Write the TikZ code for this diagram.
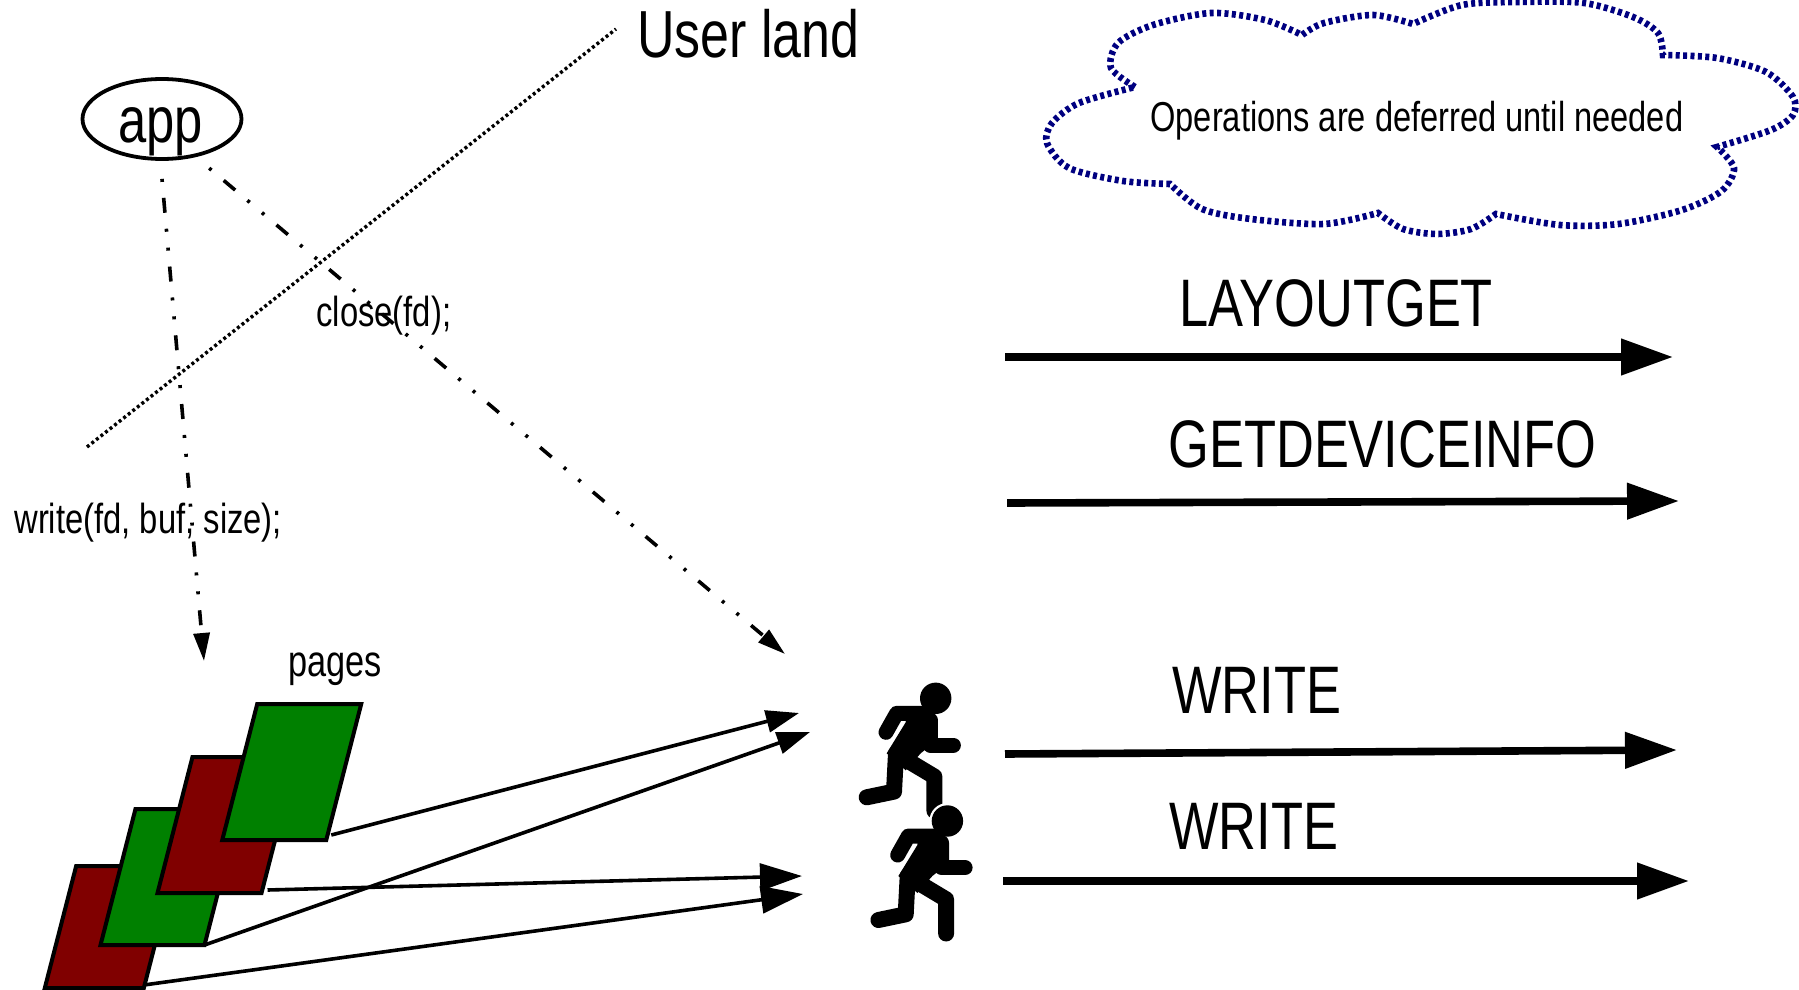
\documentclass[tikz,border=0pt]{standalone}
\usepackage{fontspec}
\setmainfont[FakeStretch=0.78]{Liberation Sans}
\usetikzlibrary{arrows.meta,shapes.geometric}
\definecolor{pagered}{HTML}{800000}
\definecolor{pagegreen}{HTML}{008000}
\definecolor{cloudblue}{HTML}{000080}
\tikzset{
  lbl/.style = {inner sep = 0pt, anchor = base west},
  pagebox/.style = {draw, line width = 2pt, outer sep = 0pt, inner sep = 0pt, minimum width = 52pt, minimum height = 68pt, xslant = .257, transform shape},
  calldash/.style = {line width = 1.8pt, dash pattern = on 1.5pt off 8pt on 7.5pt off 8pt on 1.5pt off 8pt, -{Triangle[length = 14pt, width = 8pt]}},
  pageline/.style = {line width = 1.8pt, -{Triangle[length = 16.5pt, width = 11pt]}},
  pagelong/.style = {line width = 1.8pt, -{Triangle[length = 21pt, width = 13.5pt]}},
  opline/.style = {line width = 3.8pt, -{Triangle[length = 26pt, width = 17.5pt]}},
  runner/.pic = {
    \fill (0,0) circle (15.7);
    \fill (-29,-8) -- (-7.3,-8) -- (1.7,-21.7) -- (1.7,-41.7) -- (-15,-55) -- (-30,-72) -- (-49,-55) -- (-30,-24) -- cycle;
    \draw[line width = 7.5pt, line cap = round, line join = round] (-10.7,-15) -- (-39,-15) -- (-49.7,-34);
    \draw[line width = 7.5pt, line cap = round, line join = round] (-5.7,-21.7) -- (-5.7,-46.7) -- (17.7,-46.7);
    \draw[line width = 8pt, line cap = round, line join = round] (-29,-61.7) -- (-1.3,-78.3) -- (-1.3,-112.5);
    \draw[line width = 8pt, line cap = round, line join = round] (-39.7,-55) -- (-41.7,-93.3) -- (-69,-99);
  }
}
\begin{document}
\begin{tikzpicture}[x = .5pt, y = .5pt]
\useasboundingbox (0,0) rectangle (1799,-990);
\coordinate (landa) at (87,-447);
\coordinate (landb) at (616,-29);
\draw[line width = 1.7pt, dash pattern = on 1.5pt off 1.4pt] (landa) -- (landb);
\node[lbl, font = \fontsize{33.3}{33.3}\selectfont] (userland) at (637,-58) {User land};
\node[draw, ellipse, line width = 1.9pt, minimum width = 79.5pt, minimum height = 40pt, inner sep = 0pt] (app) at (162,-119) {};
\node[lbl, font = \fontsize{32.5}{32.5}\selectfont] (apptext) at (118,-142) {app};
\coordinate (writeend) at (204,-661);
\coordinate (closeend) at (785,-654);
\draw[calldash] ([yshift = -9pt]app.south) -- (writeend);
\draw[calldash] ([shift = {(12pt,-4.5pt)}]app.-60) -- (closeend);
\node[lbl, font = \fontsize{21}{21}\selectfont] (closetext) at (316,-326) {close(fd);};
\node[lbl, font = \fontsize{21}{21}\selectfont] (writetext) at (14,-533) {write(fd, buf, size);};
\node[lbl, font = \fontsize{22}{22}\selectfont] (pagestext) at (288,-676) {pages};
\draw[cloudblue, line width = 3.3pt, dash pattern = on 2pt off 1.7pt]
  plot[smooth] coordinates {(1135,-87) (1111,-68) (1118,-43) (1153,-25) (1211,-13) (1265,-20) (1302,-35)}
  -- plot[smooth] coordinates {(1302,-35) (1324,-23) (1373,-15) (1413,-24)}
  -- plot[smooth] coordinates {(1413,-24) (1462,-5) (1520,-2) (1584,-3) (1633,-17) (1658,-33) (1663,-55)}
  -- plot[smooth] coordinates {(1663,-55) (1717,-58) (1766,-72) (1793,-97) (1793,-115) (1771,-130) (1717,-147)}
  -- plot[smooth] coordinates {(1717,-147) (1734,-168) (1721.5,-191) (1682,-210) (1618.5,-224) (1560,-225) (1496,-214)}
  -- plot[smooth] coordinates {(1496,-214) (1471,-229) (1437,-234) (1403,-229) (1378,-213)}
  -- plot[smooth] coordinates {(1378,-213) (1324,-224) (1251,-219) (1202,-209) (1170,-184)}
  -- plot[smooth] coordinates {(1170,-184) (1123,-181) (1069,-168) (1047,-143) (1052,-123) (1079,-103) (1135,-87)};
\node[lbl, font = \fontsize{20.9}{20.9}\selectfont] (cloudtext) at (1150,-132) {Operations are deferred until needed};
\node[lbl, font = \fontsize{33.6}{33.6}\selectfont] (layouttext) at (1179,-326) {LAYOUTGET};
\node[lbl, font = \fontsize{33.6}{33.6}\selectfont] (devicetext) at (1168,-467) {GETDEVICEINFO};
\node[lbl, font = \fontsize{33.6}{33.6}\selectfont] (writea) at (1172,-713) {WRITE};
\node[lbl, font = \fontsize{33.6}{33.6}\selectfont] (writeb) at (1169,-849) {WRITE};
\coordinate (layouts) at (1005,-357);
\coordinate (layoute) at (1673,-357);
\coordinate (devices) at (1007,-503);
\coordinate (devicee) at (1679,-501);
\coordinate (writeas) at (1005,-754);
\coordinate (writeae) at (1677,-750);
\coordinate (writebs) at (1003,-881);
\coordinate (writebe) at (1689,-881);
\draw[opline] (layouts) -- (layoute);
\draw[opline] (devices) -- (devicee);
\draw[opline] (writeas) -- (writeae);
\draw[opline] (writebs) -- (writebe);
\node[pagebox, fill = pagered, minimum width = 49.5pt, minimum height = 61pt] (page1) at (110,-927) {};
\node[pagebox, fill = pagegreen] (page2) at (170,-877) {};
\node[pagebox, fill = pagered] (page3) at (227,-825) {};
\node[pagebox, fill = pagegreen] (page4) at (291.75,-772) {};
\coordinate (tipa) at (799,-713);
\coordinate (tipb) at (810,-732);
\coordinate (tipc) at (802,-876);
\coordinate (tipd) at (803,-894);
\draw[pageline] ([shift = {(2.5pt,2.5pt)}]page4.south east) -- (tipa);
\draw[pagelong] ([shift = {(3pt,1.5pt)}]page3.south east) -- (tipc);
\draw[pageline] (page2.south east) -- (tipb);
\draw[pagelong] ([shift = {(0pt,1.5pt)}]page1.south east) -- (tipd);
\pic at (935.7,-698.3) {runner};
\fill[white] (947.4,-821) circle (18);
\pic at (947.4,-821) {runner};
\end{tikzpicture}
\end{document}
